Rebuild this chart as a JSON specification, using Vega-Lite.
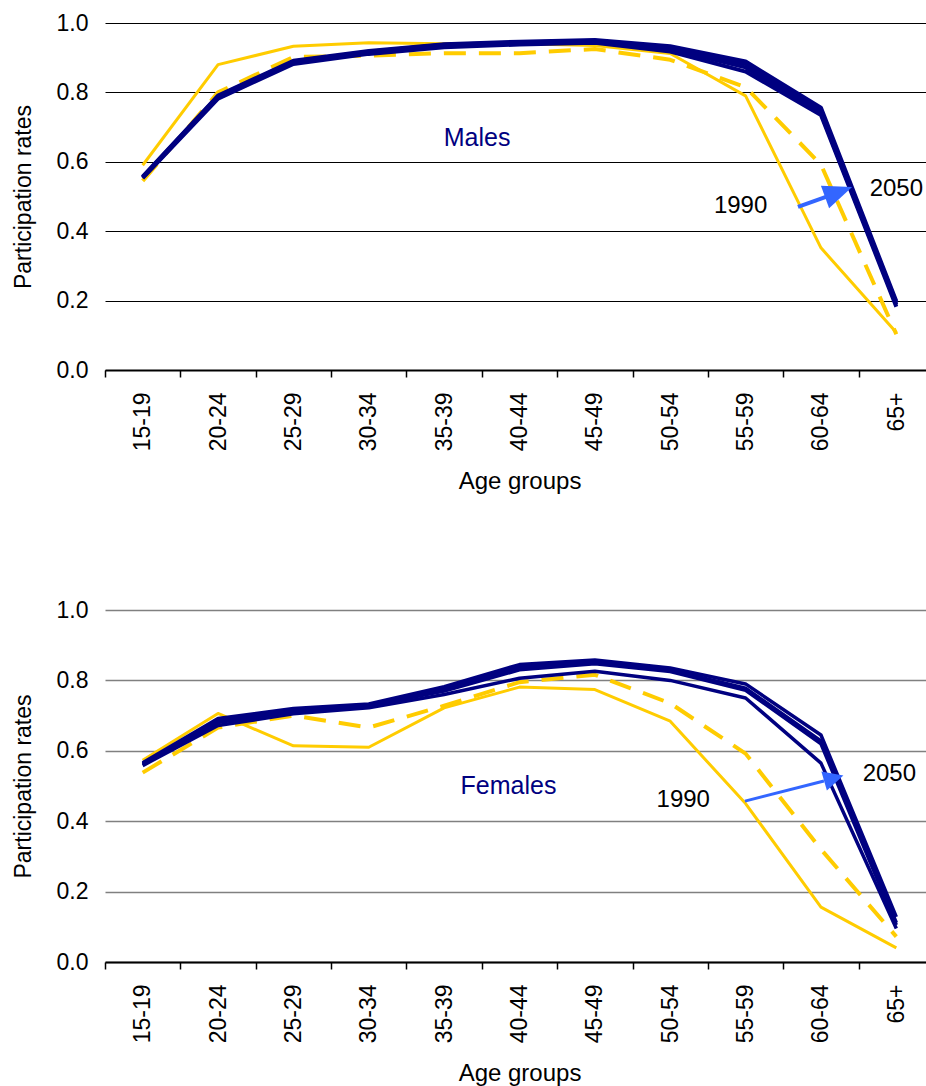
{
  "$schema": "https://vega.github.io/schema/vega-lite/v6.json",
  "padding": {"left": 12, "top": 12, "right": -8, "bottom": 0},
  "config": {
    "view": {"stroke": null},
    "font": "Liberation Sans",
    "axis": {"labelFont": "Liberation Sans", "titleFont": "Liberation Sans", "labelColor": "#000000", "titleColor": "#000000", "titleFontWeight": "normal"}
  },
  "spacing": 105,
  "datasets": {
    "rates": [
      {"sex":"Males","year":"1990","age":"15-19","rate":0.59},{"sex":"Males","year":"1990","age":"20-24","rate":0.88},{"sex":"Males","year":"1990","age":"25-29","rate":0.933},{"sex":"Males","year":"1990","age":"30-34","rate":0.943},{"sex":"Males","year":"1990","age":"35-39","rate":0.94},{"sex":"Males","year":"1990","age":"40-44","rate":0.94},{"sex":"Males","year":"1990","age":"45-49","rate":0.935},{"sex":"Males","year":"1990","age":"50-54","rate":0.912},{"sex":"Males","year":"1990","age":"55-59","rate":0.79},{"sex":"Males","year":"1990","age":"60-64","rate":0.352},{"sex":"Males","year":"1990","age":"65+","rate":0.108},
      {"sex":"Males","year":"2000","age":"15-19","rate":0.545},{"sex":"Males","year":"2000","age":"20-24","rate":0.8},{"sex":"Males","year":"2000","age":"25-29","rate":0.902},{"sex":"Males","year":"2000","age":"30-34","rate":0.906},{"sex":"Males","year":"2000","age":"35-39","rate":0.913},{"sex":"Males","year":"2000","age":"40-44","rate":0.913},{"sex":"Males","year":"2000","age":"45-49","rate":0.925},{"sex":"Males","year":"2000","age":"50-54","rate":0.894},{"sex":"Males","year":"2000","age":"55-59","rate":0.815},{"sex":"Males","year":"2000","age":"60-64","rate":0.592},{"sex":"Males","year":"2000","age":"65+","rate":0.103},
      {"sex":"Males","year":"2020","age":"15-19","rate":0.553},{"sex":"Males","year":"2020","age":"20-24","rate":0.782},{"sex":"Males","year":"2020","age":"25-29","rate":0.882},{"sex":"Males","year":"2020","age":"30-34","rate":0.911},{"sex":"Males","year":"2020","age":"35-39","rate":0.93},{"sex":"Males","year":"2020","age":"40-44","rate":0.938},{"sex":"Males","year":"2020","age":"45-49","rate":0.943},{"sex":"Males","year":"2020","age":"50-54","rate":0.918},{"sex":"Males","year":"2020","age":"55-59","rate":0.86},{"sex":"Males","year":"2020","age":"60-64","rate":0.735},{"sex":"Males","year":"2020","age":"65+","rate":0.182},
      {"sex":"Males","year":"2030","age":"15-19","rate":0.555},{"sex":"Males","year":"2030","age":"20-24","rate":0.786},{"sex":"Males","year":"2030","age":"25-29","rate":0.886},{"sex":"Males","year":"2030","age":"30-34","rate":0.914},{"sex":"Males","year":"2030","age":"35-39","rate":0.934},{"sex":"Males","year":"2030","age":"40-44","rate":0.941},{"sex":"Males","year":"2030","age":"45-49","rate":0.946},{"sex":"Males","year":"2030","age":"50-54","rate":0.925},{"sex":"Males","year":"2030","age":"55-59","rate":0.872},{"sex":"Males","year":"2030","age":"60-64","rate":0.74},{"sex":"Males","year":"2030","age":"65+","rate":0.188},
      {"sex":"Males","year":"2040","age":"15-19","rate":0.556},{"sex":"Males","year":"2040","age":"20-24","rate":0.789},{"sex":"Males","year":"2040","age":"25-29","rate":0.889},{"sex":"Males","year":"2040","age":"30-34","rate":0.917},{"sex":"Males","year":"2040","age":"35-39","rate":0.937},{"sex":"Males","year":"2040","age":"40-44","rate":0.944},{"sex":"Males","year":"2040","age":"45-49","rate":0.949},{"sex":"Males","year":"2040","age":"50-54","rate":0.93},{"sex":"Males","year":"2040","age":"55-59","rate":0.882},{"sex":"Males","year":"2040","age":"60-64","rate":0.748},{"sex":"Males","year":"2040","age":"65+","rate":0.193},
      {"sex":"Males","year":"2050","age":"15-19","rate":0.557},{"sex":"Males","year":"2050","age":"20-24","rate":0.791},{"sex":"Males","year":"2050","age":"25-29","rate":0.891},{"sex":"Males","year":"2050","age":"30-34","rate":0.919},{"sex":"Males","year":"2050","age":"35-39","rate":0.939},{"sex":"Males","year":"2050","age":"40-44","rate":0.946},{"sex":"Males","year":"2050","age":"45-49","rate":0.951},{"sex":"Males","year":"2050","age":"50-54","rate":0.933},{"sex":"Males","year":"2050","age":"55-59","rate":0.889},{"sex":"Males","year":"2050","age":"60-64","rate":0.756},{"sex":"Males","year":"2050","age":"65+","rate":0.198},
      {"sex":"Females","year":"1990","age":"15-19","rate":0.573},{"sex":"Females","year":"1990","age":"20-24","rate":0.706},{"sex":"Females","year":"1990","age":"25-29","rate":0.614},{"sex":"Females","year":"1990","age":"30-34","rate":0.61},{"sex":"Females","year":"1990","age":"35-39","rate":0.722},{"sex":"Females","year":"1990","age":"40-44","rate":0.781},{"sex":"Females","year":"1990","age":"45-49","rate":0.774},{"sex":"Females","year":"1990","age":"50-54","rate":0.684},{"sex":"Females","year":"1990","age":"55-59","rate":0.45},{"sex":"Females","year":"1990","age":"60-64","rate":0.156},{"sex":"Females","year":"1990","age":"65+","rate":0.04},
      {"sex":"Females","year":"2000","age":"15-19","rate":0.538},{"sex":"Females","year":"2000","age":"20-24","rate":0.666},{"sex":"Females","year":"2000","age":"25-29","rate":0.7},{"sex":"Females","year":"2000","age":"30-34","rate":0.666},{"sex":"Females","year":"2000","age":"35-39","rate":0.728},{"sex":"Females","year":"2000","age":"40-44","rate":0.795},{"sex":"Females","year":"2000","age":"45-49","rate":0.816},{"sex":"Females","year":"2000","age":"50-54","rate":0.735},{"sex":"Females","year":"2000","age":"55-59","rate":0.592},{"sex":"Females","year":"2000","age":"60-64","rate":0.32},{"sex":"Females","year":"2000","age":"65+","rate":0.072},
      {"sex":"Females","year":"2020","age":"15-19","rate":0.558},{"sex":"Females","year":"2020","age":"20-24","rate":0.672},{"sex":"Females","year":"2020","age":"25-29","rate":0.705},{"sex":"Females","year":"2020","age":"30-34","rate":0.722},{"sex":"Females","year":"2020","age":"35-39","rate":0.76},{"sex":"Females","year":"2020","age":"40-44","rate":0.806},{"sex":"Females","year":"2020","age":"45-49","rate":0.826},{"sex":"Females","year":"2020","age":"50-54","rate":0.8},{"sex":"Females","year":"2020","age":"55-59","rate":0.75},{"sex":"Females","year":"2020","age":"60-64","rate":0.565},{"sex":"Females","year":"2020","age":"65+","rate":0.095},
      {"sex":"Females","year":"2030","age":"15-19","rate":0.561},{"sex":"Females","year":"2030","age":"20-24","rate":0.68},{"sex":"Females","year":"2030","age":"25-29","rate":0.712},{"sex":"Females","year":"2030","age":"30-34","rate":0.727},{"sex":"Females","year":"2030","age":"35-39","rate":0.77},{"sex":"Females","year":"2030","age":"40-44","rate":0.83},{"sex":"Females","year":"2030","age":"45-49","rate":0.847},{"sex":"Females","year":"2030","age":"50-54","rate":0.825},{"sex":"Females","year":"2030","age":"55-59","rate":0.772},{"sex":"Females","year":"2030","age":"60-64","rate":0.62},{"sex":"Females","year":"2030","age":"65+","rate":0.105},
      {"sex":"Females","year":"2040","age":"15-19","rate":0.563},{"sex":"Females","year":"2040","age":"20-24","rate":0.685},{"sex":"Females","year":"2040","age":"25-29","rate":0.715},{"sex":"Females","year":"2040","age":"30-34","rate":0.73},{"sex":"Females","year":"2040","age":"35-39","rate":0.775},{"sex":"Females","year":"2040","age":"40-44","rate":0.838},{"sex":"Females","year":"2040","age":"45-49","rate":0.852},{"sex":"Females","year":"2040","age":"50-54","rate":0.83},{"sex":"Females","year":"2040","age":"55-59","rate":0.778},{"sex":"Females","year":"2040","age":"60-64","rate":0.628},{"sex":"Females","year":"2040","age":"65+","rate":0.112},
      {"sex":"Females","year":"2050","age":"15-19","rate":0.566},{"sex":"Females","year":"2050","age":"20-24","rate":0.692},{"sex":"Females","year":"2050","age":"25-29","rate":0.72},{"sex":"Females","year":"2050","age":"30-34","rate":0.733},{"sex":"Females","year":"2050","age":"35-39","rate":0.782},{"sex":"Females","year":"2050","age":"40-44","rate":0.845},{"sex":"Females","year":"2050","age":"45-49","rate":0.858},{"sex":"Females","year":"2050","age":"50-54","rate":0.835},{"sex":"Females","year":"2050","age":"55-59","rate":0.79},{"sex":"Females","year":"2050","age":"60-64","rate":0.645},{"sex":"Females","year":"2050","age":"65+","rate":0.128}
    ]
  },
  "vconcat": [
    {
      "width": 829,
      "height": 347,
      "data": {"name": "rates"},
      "encoding": {
        "x": {"field": "age", "type": "ordinal", "bandPosition": 0.5,
          "scale": {"type": "band", "domain": ["15-19","20-24","25-29","30-34","35-39","40-44","45-49","50-54","55-59","60-64","65+"], "paddingInner": 0, "paddingOuter": 0},
          "axis": {"title": "Age groups", "labelAngle": -90, "labelFontSize": 23, "titleFontSize": 24, "domainColor": "#000000", "domainWidth": 2, "tickColor": "#000000", "tickWidth": 1.5, "tickSize": 7, "tickBand": "extent", "labelPadding": 15, "titlePadding": 19, "grid": false}},
        "y": {"field": "rate", "type": "quantitative",
          "scale": {"domain": [0, 1], "nice": false},
          "axis": {"title": "Participation rates", "values": [0, 0.2, 0.4, 0.6, 0.8, 1.0], "format": ".1f", "domain": false, "ticks": false, "labelPadding": 17, "labelFontSize": 23, "titleFontSize": 23, "titlePadding": 21, "gridColor": "#000000", "gridWidth": 1, "gridOpacity": 1}}
      },
      "layer": [
        {"transform": [{"filter": "datum.sex === 'Males' && datum.year === '1990'"}],
         "mark": {"type": "line", "color": "#FFCC00", "strokeWidth": 3, "strokeJoin": "round"}},
        {"transform": [{"filter": "datum.sex === 'Males' && datum.year === '2000'"}],
         "mark": {"type": "line", "color": "#FFCC00", "strokeWidth": 4, "strokeDash": [22, 13], "strokeJoin": "round"}},
        {"transform": [{"filter": "datum.sex === 'Males' && datum.year >= '2020'"}],
         "mark": {"type": "line", "strokeWidth": 4, "strokeJoin": "round"},
         "encoding": {"color": {"field": "year", "type": "nominal", "scale": {"domain": ["2020","2030","2040","2050"], "range": ["#000080","#000080","#000080","#000080"]}, "legend": null}}},
        {"data": {"values": [{"age": "35-39", "rate": 0.669}]},
         "mark": {"type": "text", "text": "Males", "fontSize": 25, "color": "#000080", "dx": 33, "align": "center", "baseline": "middle"}},
        {"data": {"values": [{"age": "55-59", "rate": 0.473}]},
         "mark": {"type": "text", "text": "1990", "fontSize": 24, "color": "#000000", "dx": -5, "align": "center", "baseline": "middle"}},
        {"data": {"values": [{"age": "65+", "rate": 0.523}]},
         "mark": {"type": "text", "text": "2050", "fontSize": 24, "color": "#000000", "dx": 0, "align": "center", "baseline": "middle"}},
        {"data": {"values": [{"age": "60-64", "rate": 0.47, "rate2": 0.499}]},
         "mark": {"type": "rule", "color": "#3366FF", "strokeWidth": 4, "xOffset": -23, "x2Offset": 5},
         "encoding": {"x2": {"field": "age"}, "y2": {"field": "rate2"}}},
        {"data": {"values": [{"age": "60-64", "rate": 0.513}]},
         "mark": {"type": "point", "shape": "M1,0L-1,-0.83L-1,0.83Z", "filled": true, "color": "#3366FF", "opacity": 1, "size": 829, "angle": 340, "xOffset": 17.6, "strokeWidth": 0}}
      ]
    },
    {
      "width": 829,
      "height": 352,
      "data": {"name": "rates"},
      "encoding": {
        "x": {"field": "age", "type": "ordinal", "bandPosition": 0.5,
          "scale": {"type": "band", "domain": ["15-19","20-24","25-29","30-34","35-39","40-44","45-49","50-54","55-59","60-64","65+"], "paddingInner": 0, "paddingOuter": 0},
          "axis": {"title": "Age groups", "labelAngle": -90, "labelFontSize": 23, "titleFontSize": 24, "domainColor": "#000000", "domainWidth": 2, "tickColor": "#000000", "tickWidth": 1.5, "tickSize": 7, "tickBand": "extent", "labelPadding": 15, "titlePadding": 19, "grid": false}},
        "y": {"field": "rate", "type": "quantitative",
          "scale": {"domain": [0, 1], "nice": false},
          "axis": {"title": "Participation rates", "values": [0, 0.2, 0.4, 0.6, 0.8, 1.0], "format": ".1f", "domain": false, "ticks": false, "labelPadding": 17, "labelFontSize": 23, "titleFontSize": 23, "titlePadding": 21, "gridColor": "#808080", "gridWidth": 1.5, "gridOpacity": 1}}
      },
      "layer": [
        {"transform": [{"filter": "datum.sex === 'Females' && datum.year === '1990'"}],
         "mark": {"type": "line", "color": "#FFCC00", "strokeWidth": 3, "strokeJoin": "round"}},
        {"transform": [{"filter": "datum.sex === 'Females' && datum.year === '2000'"}],
         "mark": {"type": "line", "color": "#FFCC00", "strokeWidth": 4, "strokeDash": [22, 13], "strokeJoin": "round"}},
        {"transform": [{"filter": "datum.sex === 'Females' && datum.year >= '2020'"}],
         "mark": {"type": "line", "strokeWidth": 3.5, "strokeJoin": "round"},
         "encoding": {"color": {"field": "year", "type": "nominal", "scale": {"domain": ["2020","2030","2040","2050"], "range": ["#000080","#000080","#000080","#003A66"]}, "legend": null}}},
        {"data": {"values": [{"age": "40-44", "rate": 0.499}]},
         "mark": {"type": "text", "text": "Females", "fontSize": 25, "color": "#000080", "dx": -11, "align": "center", "baseline": "middle"}},
        {"data": {"values": [{"age": "50-54", "rate": 0.459}]},
         "mark": {"type": "text", "text": "1990", "fontSize": 24, "color": "#000000", "dx": 13, "align": "center", "baseline": "middle"}},
        {"data": {"values": [{"age": "65+", "rate": 0.533}]},
         "mark": {"type": "text", "text": "2050", "fontSize": 24, "color": "#000000", "dx": -7, "align": "center", "baseline": "middle"}},
        {"data": {"values": [{"age": "60-64", "rate": 0.457, "rate2": 0.514}]},
         "mark": {"type": "rule", "color": "#3366FF", "strokeWidth": 3, "xOffset": -76, "x2Offset": 3},
         "encoding": {"x2": {"field": "age"}, "y2": {"field": "rate2"}}},
        {"data": {"values": [{"age": "60-64", "rate": 0.522}]},
         "mark": {"type": "point", "shape": "M1,0L-1,-1L-1,1Z", "filled": true, "color": "#3366FF", "opacity": 1, "size": 400, "angle": 344, "xOffset": 12.8, "strokeWidth": 0}}
      ]
    }
  ]
}
